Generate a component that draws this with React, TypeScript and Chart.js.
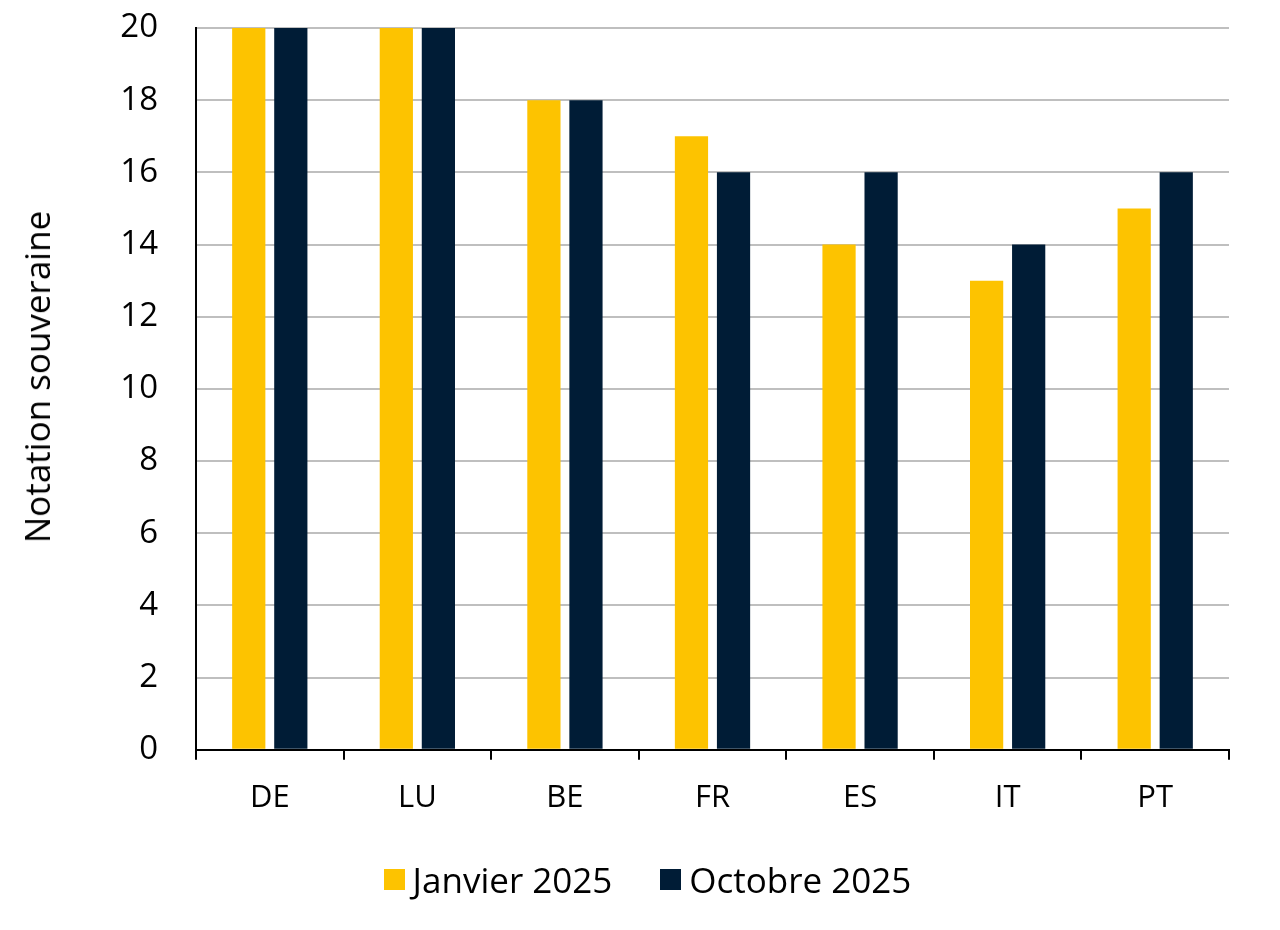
import React, { useEffect, useRef } from "react";
import { Chart, registerables } from "chart.js";

Chart.register(...registerables);

const categories = ["DE", "LU", "BE", "FR", "ES", "IT", "PT"];
const janvier2025 = [20, 20, 18, 17, 14, 13, 15];
const octobre2025 = [20, 20, 18, 16, 16, 14, 16];
const seriesLabels = ["Janvier 2025", "Octobre 2025"];
const seriesColors = ["#FDC300", "#001C36"];
const yTitle = "Notation souveraine";

const FONT = "'Open Sans', 'Noto Sans', sans-serif";

export default function App() {
  const ref = useRef<HTMLCanvasElement | null>(null);
  useEffect(() => {
    if (!ref.current) return;
    const chart = new Chart(ref.current, {
      type: "bar",
      data: {
        labels: categories,
        datasets: [
          {
            label: seriesLabels[0],
            data: janvier2025,
            backgroundColor: seriesColors[0],
            categoryPercentage: 0.57,
            barPercentage: 0.79,
          },
          {
            label: seriesLabels[1],
            data: octobre2025,
            backgroundColor: seriesColors[1],
            categoryPercentage: 0.57,
            barPercentage: 0.79,
          },
        ],
      },
      options: {
        responsive: false,
        animation: false,
        layout: { padding: { top: 28, right: 51, left: 0, bottom: 93 } },
        plugins: {
          tooltip: { enabled: false },
          legend: { display: false },
        },
        scales: {
          x: {
            offset: true,
            grid: {
              offset: true,
              drawOnChartArea: false,
              drawTicks: true,
              tickLength: 10,
              color: "#000",
              lineWidth: 2,
            },
            border: { color: "#000", width: 2 },
            ticks: {
              font: { family: FONT, size: 31 },
              color: "#000",
              padding: 20,
            },
          },
          y: {
            min: 0,
            max: 20,
            ticks: {
              stepSize: 2,
              font: { family: FONT, size: 33 },
              color: "#000",
              padding: 0,
            },
            grid: {
              color: "#BFBFBF",
              lineWidth: 2,
              drawTicks: true,
              tickLength: 38,
              tickColor: "rgba(0,0,0,0)",
            },
            border: { color: "#000", width: 2 },
            title: { display: false },
            afterFit: (scale: any) => {
              scale.width = 196;
            },
          },
        },
      },
    });
    return () => chart.destroy();
  }, []);
  return (
    <div style={{ position: "absolute", left: 0, top: 0, width: 1280, height: 930, background: "#fff" }}>
      <canvas ref={ref} width={1280} height={930} />
      <div
        style={{
          position: "absolute",
          left: 37,
          top: 377,
          transform: "translate(-50%, -50%) rotate(-90deg)",
          fontFamily: FONT,
          fontSize: 35,
          lineHeight: "42px",
          color: "#000",
          whiteSpace: "nowrap",
        }}
      >
        {yTitle}
      </div>
      <div
        style={{
          position: "absolute",
          left: 0,
          top: 855,
          width: 1280,
          height: 48,
          display: "flex",
          justifyContent: "center",
          alignItems: "center",
          paddingLeft: 15,
          boxSizing: "border-box",
          fontFamily: FONT,
          fontSize: 35,
          color: "#000",
          whiteSpace: "nowrap",
        }}
      >
        {seriesLabels.map((lab, i) => (
          <div key={lab} style={{ display: "flex", alignItems: "center", marginLeft: i === 0 ? 0 : 48 }}>
            <span style={{ display: "inline-block", width: 21, height: 21, background: seriesColors[i], marginRight: 8 }} />
            <span>{lab}</span>
          </div>
        ))}
      </div>
    </div>
  );
}
